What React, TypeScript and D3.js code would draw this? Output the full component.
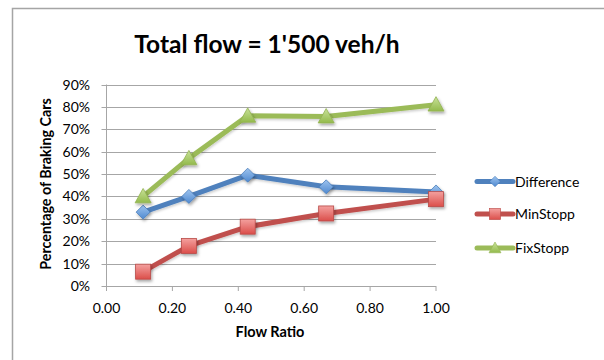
import React from "react";
import * as d3 from "d3";

// Flow ratio on the x axis (minor / major flow)
const flowRatio = [100 / 900, 200 / 800, 300 / 700, 400 / 600, 500 / 500];
// Percentage of braking cars per strategy
const difference = [0.33, 0.4, 0.495, 0.443, 0.42];
const minStopp = [0.064, 0.179, 0.265, 0.324, 0.388];
const fixStopp = [0.4, 0.57, 0.76, 0.757, 0.81];

const xTicks = [0, 0.2, 0.4, 0.6, 0.8, 1.0];
const yTicks = [0, 0.1, 0.2, 0.3, 0.4, 0.5, 0.6, 0.7, 0.8, 0.9];

const seriesNames = ["Difference", "MinStopp", "FixStopp"];

const W = 604;
const H = 360;
const FONT = "Lato, 'Open Sans', sans-serif";

const x = d3.scaleLinear().domain([0, 1]).range([106.5, 436]);
const y = d3.scaleLinear().domain([0, 0.9]).range([286, 84.5]);

type Series = {
  name: string;
  values: number[];
  line: string;
  shape: "diamond" | "square" | "triangle";
  grad: string;
  stroke: string;
};

const series: Series[] = [
  { name: seriesNames[0], values: difference, line: "#4F81BD", shape: "diamond", grad: "gBlue", stroke: "#4A7EBB" },
  { name: seriesNames[1], values: minStopp, line: "#C0504D", shape: "square", grad: "gRed", stroke: "#B84A47" },
  { name: seriesNames[2], values: fixStopp, line: "#9BBB59", shape: "triangle", grad: "gGreen", stroke: "#93B352" },
];

function Marker({ s, cx, cy }: { s: Series; cx: number; cy: number }) {
  const fill = `url(#${s.grad})`;
  if (s.shape === "diamond") {
    const r = 7;
    const pts = [[cx, cy - r], [cx + r, cy], [cx, cy + r], [cx - r, cy]];
    return <polygon points={pts.map((p) => p.join(",")).join(" ")} fill={fill} stroke={s.stroke} strokeWidth={0.8} />;
  }
  if (s.shape === "square") {
    const h = 7.5;
    return <rect x={cx - h} y={cy - h} width={2 * h} height={2 * h} fill={fill} stroke={s.stroke} strokeWidth={0.8} />;
  }
  const r = 8;
  const pts = [[cx, cy - r], [cx + r, cy + r * 0.8], [cx - r, cy + r * 0.8]];
  return <polygon points={pts.map((p) => p.join(",")).join(" ")} fill={fill} stroke={s.stroke} strokeWidth={0.8} />;
}

export default function App() {
  const line = d3
    .line<number>()
    .x((_, i) => x(flowRatio[i]))
    .y((d) => y(d));

  const legendY = [181.5, 214, 248];

  return (
    <svg
      width={W}
      height={H}
      style={{ position: "absolute", left: 0, top: 0, background: "#fff" }}
      fontFamily={FONT}
    >
      <defs>
        <filter id="shadow" x="-50%" y="-50%" width="200%" height="200%">
          <feDropShadow dx={1.2} dy={2} stdDeviation={1.4} floodColor="#000" floodOpacity={0.35} />
        </filter>
        <filter id="lineShadow" x="-10%" y="-10%" width="120%" height="120%">
          <feDropShadow dx={0.8} dy={1.5} stdDeviation={1.2} floodColor="#000" floodOpacity={0.2} />
        </filter>
        <linearGradient id="gBlue" x1="0" y1="0" x2="0" y2="1">
          <stop offset="0" stopColor="#9DC3EE" />
          <stop offset="1" stopColor="#4F89D0" />
        </linearGradient>
        <linearGradient id="gRed" x1="0" y1="0" x2="0" y2="1">
          <stop offset="0" stopColor="#F4A19F" />
          <stop offset="1" stopColor="#DB4E4A" />
        </linearGradient>
        <linearGradient id="gGreen" x1="0" y1="0" x2="0" y2="1">
          <stop offset="0" stopColor="#C9E29A" />
          <stop offset="1" stopColor="#93BA4C" />
        </linearGradient>
      </defs>

      {/* chart frame */}
      <path d={`M12.5,${H} V8.5 H${W}`} fill="none" stroke="#A5A5A5" strokeWidth={1.5} />

      <text x={267} y={53} textAnchor="middle" fontSize={24.5} fontWeight="bold" fill="#000">
        Total flow = 1'500 veh/h
      </text>

      {/* gridlines */}
      {yTicks.map((t) => (
        <line key={`g${t}`} x1={x(0) - 5} x2={x(1)} y1={Math.round(y(t)) + 0.5} y2={Math.round(y(t)) + 0.5} stroke="#A6A6A6" strokeWidth={1} />
      ))}
      {/* y axis */}
      <line x1={x(0)} x2={x(0)} y1={y(0.9)} y2={y(0)} stroke="#A6A6A6" strokeWidth={1} />
      {/* x ticks */}
      {xTicks.map((t) => (
        <line key={`xt${t}`} x1={x(t)} x2={x(t)} y1={y(0)} y2={y(0) + 5} stroke="#A6A6A6" strokeWidth={1} />
      ))}

      {yTicks.map((t) => (
        <text key={`yl${t}`} x={90} y={y(t) + 5} textAnchor="end" fontSize={14} fill="#000">
          {d3.format(".0%")(t)}
        </text>
      ))}
      {xTicks.map((t) => (
        <text key={`xl${t}`} x={x(t)} y={313} textAnchor="middle" fontSize={14} fill="#000">
          {d3.format(".2f")(t)}
        </text>
      ))}

      <text x={270} y={337} textAnchor="middle" fontSize={14.5} fontWeight="bold" fill="#000">
        Flow Ratio
      </text>
      <text
        transform={`translate(51,184) rotate(-90)`}
        textAnchor="middle"
        fontSize={14.3}
        fontWeight="bold"
        fill="#000"
      >
        Percentage of Braking Cars
      </text>

      {/* series lines and markers */}
      {series.map((s) => (
        <path key={`l${s.name}`} d={line(s.values) || ""} fill="none" stroke={s.line} strokeWidth={5} strokeLinejoin="round" filter="url(#lineShadow)" />
      ))}
      {series.map((s) => (
        <g key={`m${s.name}`} filter="url(#shadow)">
          {s.values.map((v, i) => (
            <Marker key={i} s={s} cx={x(flowRatio[i])} cy={y(v)} />
          ))}
        </g>
      ))}

      {/* legend */}
      {series.map((s, i) => (
        <g key={`lg${s.name}`}>
          <line x1={477} x2={513} y1={legendY[i]} y2={legendY[i]} stroke={s.line} strokeWidth={5} strokeLinecap="round" />
          <g transform={`translate(495,${legendY[i]}) scale(0.75) translate(-495,${-legendY[i]})`}>
            <Marker s={s} cx={495} cy={legendY[i]} />
          </g>
          <text x={515} y={legendY[i] + 5} fontSize={14} fill="#000">
            {s.name}
          </text>
        </g>
      ))}
    </svg>
  );
}
